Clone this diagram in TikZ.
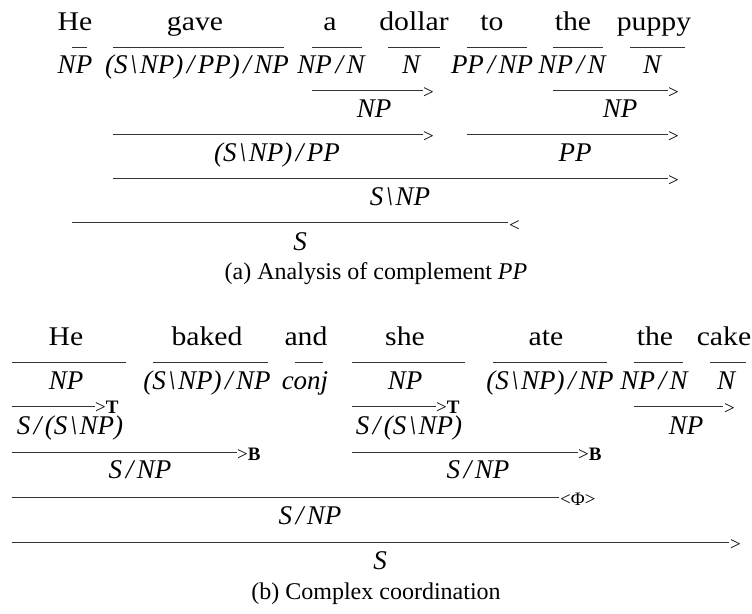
\documentclass[tikz,border=0pt]{standalone}
\usepackage{fontspec}
\setmainfont{Liberation Serif}
\newfontfamily\wordfont[FakeStretch=1.1]{Liberation Serif}
\newcommand\fsl{\kern0.13em/\kern0.13em}
\newcommand\bsl{\kern0.09em\textbackslash\kern0.09em}
\tikzset{
  word/.style={anchor=base, inner sep=0pt, font=\wordfont\fontsize{27}{30}\selectfont},
  cat/.style={anchor=base, inner sep=0pt, font=\fontsize{27}{30}\selectfont\itshape},
  crule/.style={line width=0.9pt, draw=black!80},
  op/.style={anchor=base west, inner sep=0pt, font=\fontsize{19}{21}\selectfont},
  capt/.style={anchor=base, inner sep=0pt, font=\fontsize{24}{28}\selectfont},
}
\begin{document}
\begin{tikzpicture}[x=1pt,y=-1pt]
\useasboundingbox (0,0) rectangle (752,613);
% ---------------- (a) ----------------
\node[word] (aw1) at (75,30) {He};
\node[word] (aw2) at (195,30) {gave};
\node[word] (aw3) at (330,30) {a};
\node[word] (aw4) at (414,30) {dollar};
\node[word] (aw5) at (492,30) {to};
\node[word] (aw6) at (573,30) {the};
\node[word] (aw7) at (654,30) {puppy};
\draw[crule] (72,47) -- (87,47);
\draw[crule] (113,47) -- (284,47);
\draw[crule] (312,47) -- (362,47);
\draw[crule] (388,47) -- (440,47);
\draw[crule] (467,47) -- (527,47);
\draw[crule] (553,47) -- (603,47);
\draw[crule] (630,47) -- (685,47);
\node[cat] (ac1) at (75,73) {NP};
\node[cat] (ac2) at (197,73) {(S\bsl NP)\fsl PP)\fsl NP};
\node[cat] (ac3) at (331,73) {NP\fsl N};
\node[cat] (ac4) at (411,73) {N};
\node[cat] (ac5) at (492,73) {PP\fsl NP};
\node[cat] (ac6) at (572,73) {NP\fsl N};
\node[cat] (ac7) at (652,73) {N};
% row 2
\draw[crule] (312,90) -- (423,90);
\node[op] (ao21) at (423,98) {>};
\draw[crule] (553,90) -- (668,90);
\node[op] (ao22) at (668,98) {>};
\node[cat] (ar21) at (374,117) {NP};
\node[cat] (ar22) at (620,117) {NP};
% row 3
\draw[crule] (113,134) -- (423,134);
\node[op] (ao31) at (423,142) {>};
\draw[crule] (467,134) -- (668,134);
\node[op] (ao32) at (668,142) {>};
\node[cat] (ar31) at (277,161) {(S\bsl NP)\fsl PP};
\node[cat] (ar32) at (575,161) {PP};
% row 4
\draw[crule] (113,178) -- (668,178);
\node[op] (ao4) at (668,186) {>};
\node[cat] (ar4) at (400,205) {S\bsl NP};
% row 5
\draw[crule] (72,222) -- (508,222);
\node[op] (ao5) at (509,231) {<};
\node[cat] (ar5) at (300,250) {S};
\node[capt] (capa) at (376,279) {(a) Analysis of complement \textit{PP}};
% ---------------- (b) ----------------
\node[word] (bw1) at (66,345) {He};
\node[word] (bw2) at (207,345) {baked};
\node[word] (bw3) at (306,345) {and};
\node[word] (bw4) at (405,345) {she};
\node[word] (bw5) at (546,345) {ate};
\node[word] (bw6) at (655,345) {the};
\node[word] (bw7) at (724,345) {cake};
\draw[crule] (12,362) -- (126,362);
\draw[crule] (153,362) -- (268,362);
\draw[crule] (295,362) -- (323,362);
\draw[crule] (352,362) -- (465,362);
\draw[crule] (493,362) -- (607,362);
\draw[crule] (634,362) -- (683,362);
\draw[crule] (710,362) -- (746,362);
\node[cat] (bc1) at (66,389) {NP};
\node[cat] (bc2) at (207,389) {(S\bsl NP)\fsl NP};
\node[cat] (bc3) at (305,389) {conj};
\node[cat] (bc4) at (405,389) {NP};
\node[cat] (bc5) at (550,389) {(S\bsl NP)\fsl NP};
\node[cat] (bc6) at (654,389) {NP\fsl N};
\node[cat] (bc7) at (726,389) {N};
% row 2
\draw[crule] (12,406) -- (95,406);
\node[op] (bo21) at (95,413) {>\textbf{T}};
\draw[crule] (352,406) -- (436,406);
\node[op] (bo22) at (436,413) {>\textbf{T}};
\draw[crule] (634,406) -- (723,406);
\node[op] (bo23) at (724,414) {>};
\node[cat] (br21) at (70,434) {S\fsl (S\bsl NP)};
\node[cat] (br22) at (409,434) {S\fsl (S\bsl NP)};
\node[cat] (br23) at (686,434) {NP};
% row 3
\draw[crule] (12,452) -- (237,452);
\node[op] (bo31) at (237,460) {>\textbf{B}};
\draw[crule] (352,452) -- (578,452);
\node[op] (bo32) at (578,460) {>\textbf{B}};
\node[cat] (br31) at (140,478) {S\fsl NP};
\node[cat] (br32) at (478,478) {S\fsl NP};
% row 4
\draw[crule] (12,497) -- (559,497);
\node[op] (bo4) at (560,505) {<\textup{Φ}>};
\node[cat] (br4) at (310,524) {S\fsl NP};
% row 5
\draw[crule] (12,542) -- (729,542);
\node[op] (bo5) at (730,550) {>};
\node[cat] (br5) at (380,569) {S};
\node[capt] (capb) at (376,599) {(b) Complex coordination};
\end{tikzpicture}
\end{document}
